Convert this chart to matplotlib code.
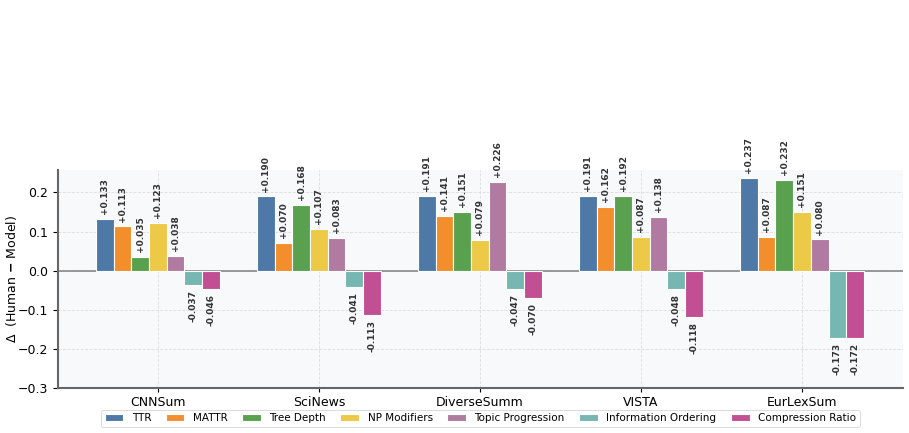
import matplotlib
matplotlib.use("Agg")
import matplotlib.pyplot as plt
import numpy as np

datasets = ["CNNSum", "SciNews", "DiverseSumm", "VISTA", "EurLexSum"]
series_names = ["TTR", "MATTR", "Tree Depth", "NP Modifiers", "Topic Progression",
                "Information Ordering", "Compression Ratio"]
ttr = [0.133, 0.190, 0.191, 0.191, 0.237]
mattr = [0.113, 0.070, 0.141, 0.162, 0.087]
tree_depth = [0.035, 0.168, 0.151, 0.192, 0.232]
np_modifiers = [0.123, 0.107, 0.079, 0.087, 0.151]
topic_progression = [0.038, 0.083, 0.226, 0.138, 0.080]
info_ordering = [-0.037, -0.041, -0.047, -0.048, -0.173]
compression_ratio = [-0.046, -0.113, -0.070, -0.118, -0.172]
values = [ttr, mattr, tree_depth, np_modifiers, topic_progression, info_ordering, compression_ratio]
colors = ["#4e79a7", "#f28e2b", "#59a14f", "#edc948", "#b07aa1", "#76b7b2", "#c24f94"]

fig = plt.figure(figsize=(9.09, 4.33), dpi=100)
ax = fig.add_axes([0.0633, 0.104, 0.930, 0.5034])
ax.set_facecolor("#f8f9fb")

x = np.arange(len(datasets))
w = 0.11
n = len(series_names)
for i, (name, vals, c) in enumerate(zip(series_names, values, colors)):
    pos = x + (i - (n - 1) / 2) * w
    bars = ax.bar(pos, vals, width=w, color=c, edgecolor="white", linewidth=0.8,
                  label=name, zorder=3)
    for b, v in zip(bars, vals):
        cx = b.get_x() + b.get_width() / 2
        if v >= 0:
            ax.annotate(f"+{v:.3f}", (cx, v), xytext=(0, 3.5), textcoords="offset points",
                        rotation=90, ha="center", va="bottom", fontsize=6.5,
                        fontweight="bold", color="#333333", zorder=4)
        else:
            ax.annotate(f"-{abs(v):.3f}", (cx, v), xytext=(0, -3.5), textcoords="offset points",
                        rotation=90, ha="center", va="top", fontsize=6.5,
                        fontweight="bold", color="#333333", zorder=4)

ax.axhline(0, color="#888888", linewidth=1.2, zorder=2)
ax.set_xlim(-0.623, 4.627)
ax.set_ylim(-0.3, 0.2575)
ax.set_yticks([-0.3, -0.2, -0.1, 0.0, 0.1, 0.2])
ax.set_xticks(x)
ax.set_xticklabels(datasets, fontsize=9)
ax.tick_params(axis="y", labelsize=9)
ax.tick_params(axis="x", length=3, pad=2.5)
ax.set_ylabel(r"Δ  (Human $\mathbf{-}$ Model)", fontsize=9, labelpad=-1)
ax.grid(True, linestyle="--", color="#dddddd", linewidth=0.6, zorder=0)
for s in ["top", "right"]:
    ax.spines[s].set_visible(False)
for s in ["left", "bottom"]:
    ax.spines[s].set_color("#666666")
    ax.spines[s].set_linewidth(1.5)

leg = ax.legend(loc="upper center", bbox_to_anchor=(0.5, -0.075), ncol=7, fontsize=7.5,
                frameon=True, handlelength=1.8, columnspacing=1.4, handleheight=0.6,
                borderpad=0.35)
leg.get_frame().set_edgecolor("#cccccc")
leg.get_frame().set_linewidth(0.6)

fig.savefig("out.png", dpi=100)
